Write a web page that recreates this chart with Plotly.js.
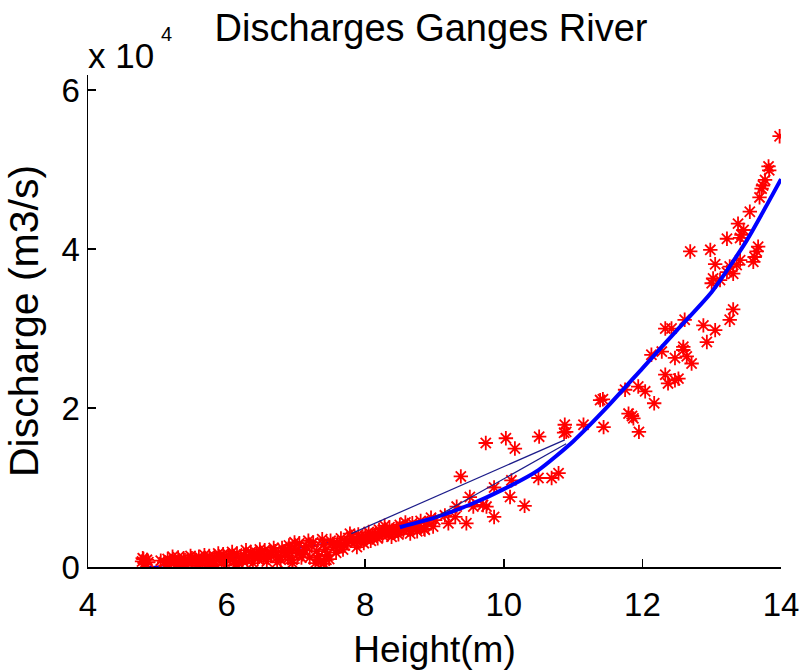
<!DOCTYPE html>
<html>
<head>
<meta charset="utf-8">
<script src="https://cdn.plot.ly/plotly-3.0.1.min.js"></script>
<style>html,body{margin:0;padding:0;background:#fff;}#chart{width:803px;height:670px;}</style>
</head>
<body>
<div id="chart"></div>
<script>
// Observed stage (m) and discharge (units of 10^4 m3/s)
var heightObs = [
 4.78,4.82,4.85,4.80,4.87,4.83,4.79,
 5.10,5.15,5.20,5.25,5.30,5.35,5.40,5.45,5.50,5.55,5.60,5.65,5.70,5.75,5.80,5.85,5.90,5.95,
 6.00,6.05,6.10,6.15,6.20,6.25,6.30,6.35,6.40,6.45,6.50,6.55,6.60,6.65,6.70,6.75,6.80,6.85,6.90,6.95,
 7.00,7.05,7.10,7.15,7.20,7.25,7.30,7.35,7.40,7.45,7.50,7.55,7.60,7.65,7.70,7.75,7.80,7.85,7.90,7.95,
 8.00,8.05,8.10,8.15,8.20,8.25,8.30,8.35,8.40,8.45,8.50,8.55,8.60,8.65,8.70,8.75,
 5.12,5.22,5.33,5.48,5.58,5.68,5.78,5.88,5.98,6.08,6.18,6.28,6.38,6.48,6.58,6.68,6.78,6.88,6.98,
 7.08,7.18,7.28,7.38,7.48,7.58,7.68,7.78,7.88,7.98,8.08,8.18,8.28,8.38,8.48,8.58,8.68,8.78,8.85,5.80,
 5.05,5.18,5.28,5.38,5.43,5.53,5.63,5.73,5.83,5.93,6.03,6.13,6.23,6.33,6.43,6.53,6.63,6.73,6.83,6.93,
 7.03,7.13,7.23,7.33,7.43,7.53,7.63,7.73,7.83,7.93,8.03,8.13,8.23,8.33,8.43,8.53,8.63,8.73,8.80,8.90,
 8.95,7.40,7.32,7.44,6.95,6.90,
 8.86,8.98,9.01,9.15,9.20,9.30,9.32,9.38,9.46,9.51,9.56,9.70,9.74,9.75,9.86,9.86,
 10.03,10.09,10.11,10.16,10.30,10.50,10.51,10.69,10.79,10.87,10.88,10.90,
 11.15,11.39,11.43,11.44,11.75,11.80,11.85,11.87,11.94,11.95,
 12.04,12.13,12.17,12.28,12.33,12.33,12.37,12.42,12.47,12.47,12.52,12.59,12.59,12.61,12.64,12.69,12.71,12.88,12.93,12.98,
 13.00,13.02,13.05,13.05,13.12,13.22,13.22,13.26,13.26,13.31,13.31,13.36,13.38,13.41,13.41,13.43,13.46,13.55,
 13.60,13.62,13.65,13.67,13.69,13.72,13.74,13.77,13.82,13.83,13.98
];
var dischargeObs = [
 0.07,0.05,0.09,0.10,0.06,0.03,0.11,
 0.06,0.10,0.04,0.08,0.12,0.06,0.09,0.05,0.11,0.07,0.13,0.04,0.10,0.14,0.08,0.03,0.12,0.16,
 0.09,0.13,0.07,0.17,0.11,0.15,0.08,0.19,0.13,0.10,0.17,0.21,0.12,0.16,0.20,0.14,0.24,0.18,0.27,0.09,
 0.22,0.30,0.16,0.26,0.12,0.31,0.20,0.07,0.28,0.15,0.33,0.25,0.30,0.36,0.27,0.33,0.38,0.31,0.41,0.35,
 0.39,0.44,0.37,0.42,0.47,0.40,0.45,0.50,0.43,0.48,0.53,0.46,0.51,0.42,0.49,0.45,
 0.02,0.13,0.01,0.14,0.02,0.15,0.01,0.17,0.02,0.19,0.04,0.21,0.05,0.22,0.07,0.24,0.09,0.14,0.31,
 0.12,0.33,0.05,0.35,0.10,0.18,0.22,0.42,0.25,0.30,0.33,0.36,0.52,0.38,0.41,0.56,0.55,0.52,0.48,-0.02,
 0.08,0.07,0.03,0.11,0.02,0.09,0.08,0.05,0.13,0.07,0.15,0.03,0.08,0.13,0.18,0.11,0.19,0.06,0.20,0.22,
 0.17,0.21,0.26,0.14,0.22,0.29,0.26,0.31,0.35,0.32,0.37,0.40,0.43,0.41,0.45,0.48,0.47,0.51,0.58,0.55,
 0.62,0.04,0.10,0.09,0.05,0.12,
 0.47,0.51,0.59,0.65,0.55,0.63,0.76,1.14,0.55,0.88,0.76,0.78,1.56,0.76,1.00,0.63,
 1.62,0.88,1.09,1.49,0.77,1.12,1.64,1.12,1.18,1.69,1.79,1.70,
 1.79,2.10,2.11,1.76,2.23,1.93,1.90,1.87,2.27,1.70,
 2.21,2.67,2.06,2.71,2.42,3.00,2.31,3.00,2.35,2.63,2.37,2.73,2.77,3.11,2.65,3.97,2.56,3.04,2.83,3.99,
 3.57,3.63,3.81,2.98,3.61,3.71,4.13,3.11,3.78,3.69,3.24,3.80,4.32,4.14,3.86,4.18,4.24,4.47,
 3.84,3.90,3.97,4.03,4.65,4.76,4.80,4.87,5.04,4.99,5.42
];
// Fitted rating curve (low part and high part)
var fitHeightLow = [4.8,5.0,5.5,6.0,6.5,7.0,7.5,8.0,8.5];
var fitDischargeLow = [0.00,0.01,0.05,0.10,0.16,0.23,0.31,0.40,0.50];
var fitHeightHigh = [8.5,9.0,9.5,10.0,10.5,11.0,11.5,12.0,12.5,13.0,13.5,14.0];
var fitDischargeHigh = [0.50,0.62,0.78,0.98,1.22,1.58,2.02,2.50,2.98,3.46,4.10,4.88];
// Thin connecting segments of the unsorted fit line
var chordHeight = [7.8,10.88,9.0,10.9];
var chordDischarge = [0.42,1.60,0.62,1.55];

var FONT = '"Liberation Sans", Arial, Helvetica, sans-serif';

var traces = [
  {
    x: fitHeightLow, y: fitDischargeLow, type: 'scatter', mode: 'lines',
    line: {color: '#0000ff', width: 1.5, shape: 'spline', smoothing: 0.6}
  },
  {
    x: heightObs, y: dischargeObs, type: 'scatter', mode: 'markers',
    marker: {symbol: 'asterisk-open', size: 12, color: '#ff0000', line: {color: '#ff0000', width: 1.8}}
  },
  {
    x: fitHeightHigh, y: fitDischargeHigh, type: 'scatter', mode: 'lines',
    line: {color: '#0000ff', width: 4, shape: 'spline', smoothing: 0.6}
  },
  {
    x: chordHeight.slice(0,2), y: chordDischarge.slice(0,2), type: 'scatter', mode: 'lines',
    line: {color: '#1c1c8a', width: 1.2}
  },
  {
    x: chordHeight.slice(2,4), y: chordDischarge.slice(2,4), type: 'scatter', mode: 'lines',
    line: {color: '#1c1c8a', width: 1.2}
  }
];

var layout = {
  width: 803, height: 670,
  margin: {l: 88, r: 22, t: 75, b: 103},
  paper_bgcolor: '#ffffff', plot_bgcolor: '#ffffff',
  showlegend: false,
  font: {family: FONT, color: '#000000'},
  title: {text: 'Discharges Ganges River', font: {family: FONT, size: 38, color: '#000'},
          x: 0.495, xanchor: 'center', xref: 'paper', y: 0.958, yanchor: 'middle'},
  xaxis: {
    range: [4, 14], tickvals: [4,6,8,10,12,14], ticktext: ['4','6','8','10','12','14'],
    showline: true, linecolor: '#000', linewidth: 1.5, mirror: false,
    ticks: 'inside', ticklen: 8, tickwidth: 1.5, tickcolor: '#000',
    showgrid: false, zeroline: false, ticklabelstandoff: 8,
    tickfont: {family: FONT, size: 33, color: '#000'},
    title: {text: 'Height(m)', font: {family: FONT, size: 37, color: '#000'}, standoff: 16}
  },
  yaxis: {
    range: [0, 6.19], tickvals: [0,2,4,6], ticktext: ['0','2','4','6'],
    showline: true, linecolor: '#000', linewidth: 1.5, mirror: false,
    ticks: 'inside', ticklen: 8, tickwidth: 1.5, tickcolor: '#000',
    showgrid: false, zeroline: false,
    tickfont: {family: FONT, size: 33, color: '#000'},
    title: {text: 'Discharge (m3/s)', font: {family: FONT, size: 41, color: '#000'}, standoff: 10}
  },
  annotations: [
    {
      text: 'x 10', xref: 'paper', yref: 'paper', x: -0.003, y: 1.04,
      xanchor: 'left', yanchor: 'middle', showarrow: false,
      font: {family: FONT, size: 35, color: '#000'}
    },
    {
      text: '4', xref: 'paper', yref: 'paper', x: 0.103, y: 1.083,
      xanchor: 'left', yanchor: 'middle', showarrow: false,
      font: {family: FONT, size: 20, color: '#000'}
    }
  ]
};

Plotly.newPlot('chart', traces, layout, {displayModeBar: false, staticPlot: true});
</script>
</body>
</html>
